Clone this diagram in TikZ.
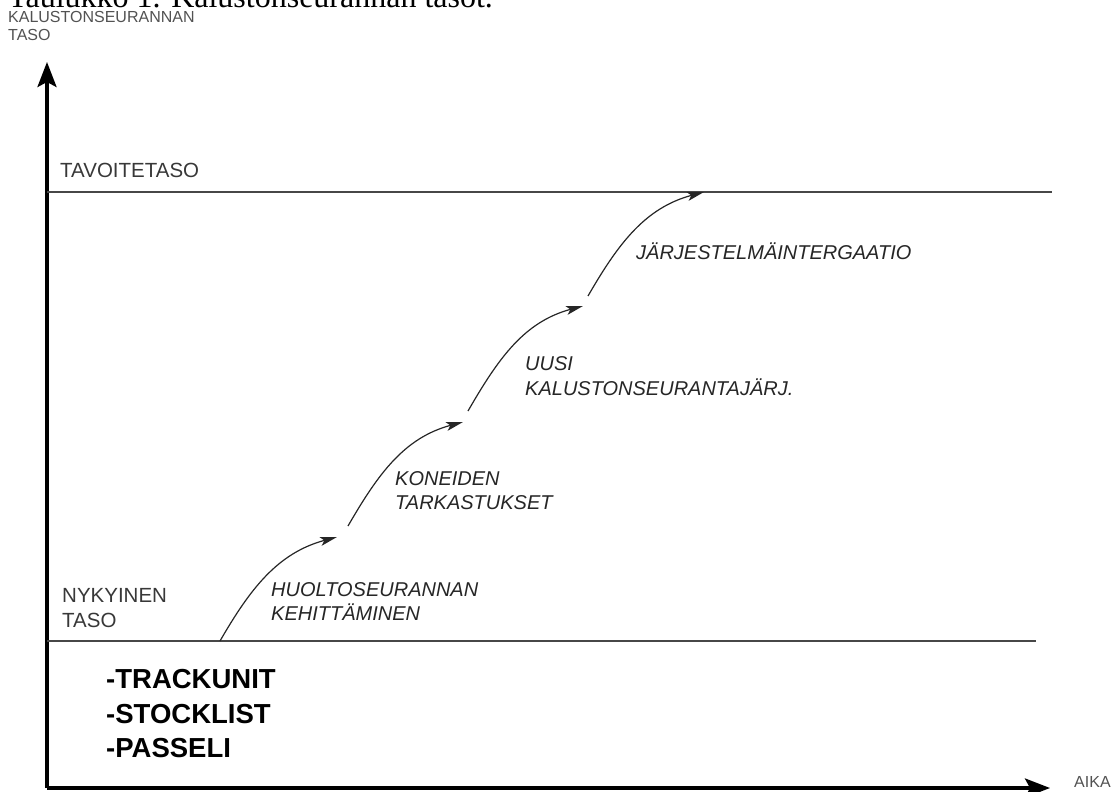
\documentclass[tikz,border=0pt]{standalone}
\usepackage{fontspec}
\setmainfont{Liberation Sans}
\newfontfamily\captfont{Liberation Serif}
\usetikzlibrary{arrows.meta}

\begin{document}
\begin{tikzpicture}[
  x=1pt, y=-1pt,
  axisline/.style={line width=3.5pt, draw=black, -{Stealth[length=25pt,width=19pt,inset=5pt]}},
  levelline/.style={line width=2pt, draw=black!72},
  stepcurve/.style={line width=1.2pt, draw=black!85, -{Stealth[length=17pt,width=9pt,inset=4pt]}},
  smalllbl/.style={anchor=base west, inner sep=0pt, text=black!68, font=\fontsize{16}{18}\selectfont},
  levellbl/.style={anchor=base west, inner sep=0pt, text=black!78, font=\fontsize{20.5}{24}\selectfont},
  steplbl/.style={anchor=base west, inner sep=0pt, text=black!85, font=\fontsize{20}{24}\selectfont\itshape},
  toollbl/.style={anchor=base west, inner sep=0pt, font=\fontsize{27.5}{35}\selectfont\bfseries}
]
  \useasboundingbox (0,0) rectangle (1114,792);

  % caption, cut at the top
  \node[anchor=base west, inner sep=0pt, font=\captfont\fontsize{32}{36}\selectfont] (caption) at (8,8) {Taulukko 1. Kalustonseurannan tasot.};

  % axes
  \coordinate (origin) at (47,788);
  \coordinate (ytop) at (47,62);
  \coordinate (xend) at (1050,788);
  \draw[axisline] (origin) -- (ytop);
  \draw[axisline] (origin) -- (xend);
  \node[smalllbl] (ylbl1) at (8,23) {KALUSTONSEURANNAN};
  \node[smalllbl] (ylbl2) at (8,41) {TASO};
  \node[smalllbl] (xlbl) at (1074,787) {AIKA};

  % levels
  \coordinate (goalL) at (47,192);
  \coordinate (goalR) at (1052,192);
  \coordinate (nowL) at (47,641);
  \coordinate (nowR) at (1036,641);
  \draw[levelline] (goalL) -- (goalR);
  \draw[levelline] (nowL) -- (nowR);
  \node[levellbl] (goal) at (60,177) {TAVOITETASO};
  \node[levellbl] (now1) at (62,602) {NYKYINEN};
  \node[levellbl] (now2) at (62,627) {TASO};

  \node[toollbl] (trackunit) at (106,688) {-TRACKUNIT};
  \node[toollbl] (stocklist) at (106,723) {-STOCKLIST};
  \node[toollbl] (passeli) at (106,757) {-PASSELI};

  % steps
  \coordinate (s1) at (220,641);
  \coordinate (e1) at (337,537);
  \coordinate (s2) at (348,526);
  \coordinate (e2) at (463,422);
  \coordinate (s3) at (468,411);
  \coordinate (e3) at (583,306);
  \coordinate (s4) at (588,296);
  \coordinate (e4) at (704,192);
  \draw[stepcurve] (s1) to[out=60,in=195] (e1);
  \draw[stepcurve] (s2) to[out=60,in=195] (e2);
  \draw[stepcurve] (s3) to[out=60,in=195] (e3);
  \draw[stepcurve] (s4) to[out=60,in=195] (e4);

  \node[steplbl] (huolto1) at (271,596) {HUOLTOSEURANNAN};
  \node[steplbl] (huolto2) at (271,620) {KEHITTÄMINEN};
  \node[steplbl] (kone1) at (395,485) {KONEIDEN};
  \node[steplbl] (kone2) at (395,509) {TARKASTUKSET};
  \node[steplbl] (uusi1) at (525,370) {UUSI};
  \node[steplbl] (uusi2) at (525,395) {KALUSTONSEURANTAJÄRJ.};
  \node[steplbl] (integr) at (636,259) {JÄRJESTELMÄINTERGAATIO};
\end{tikzpicture}
\end{document}
